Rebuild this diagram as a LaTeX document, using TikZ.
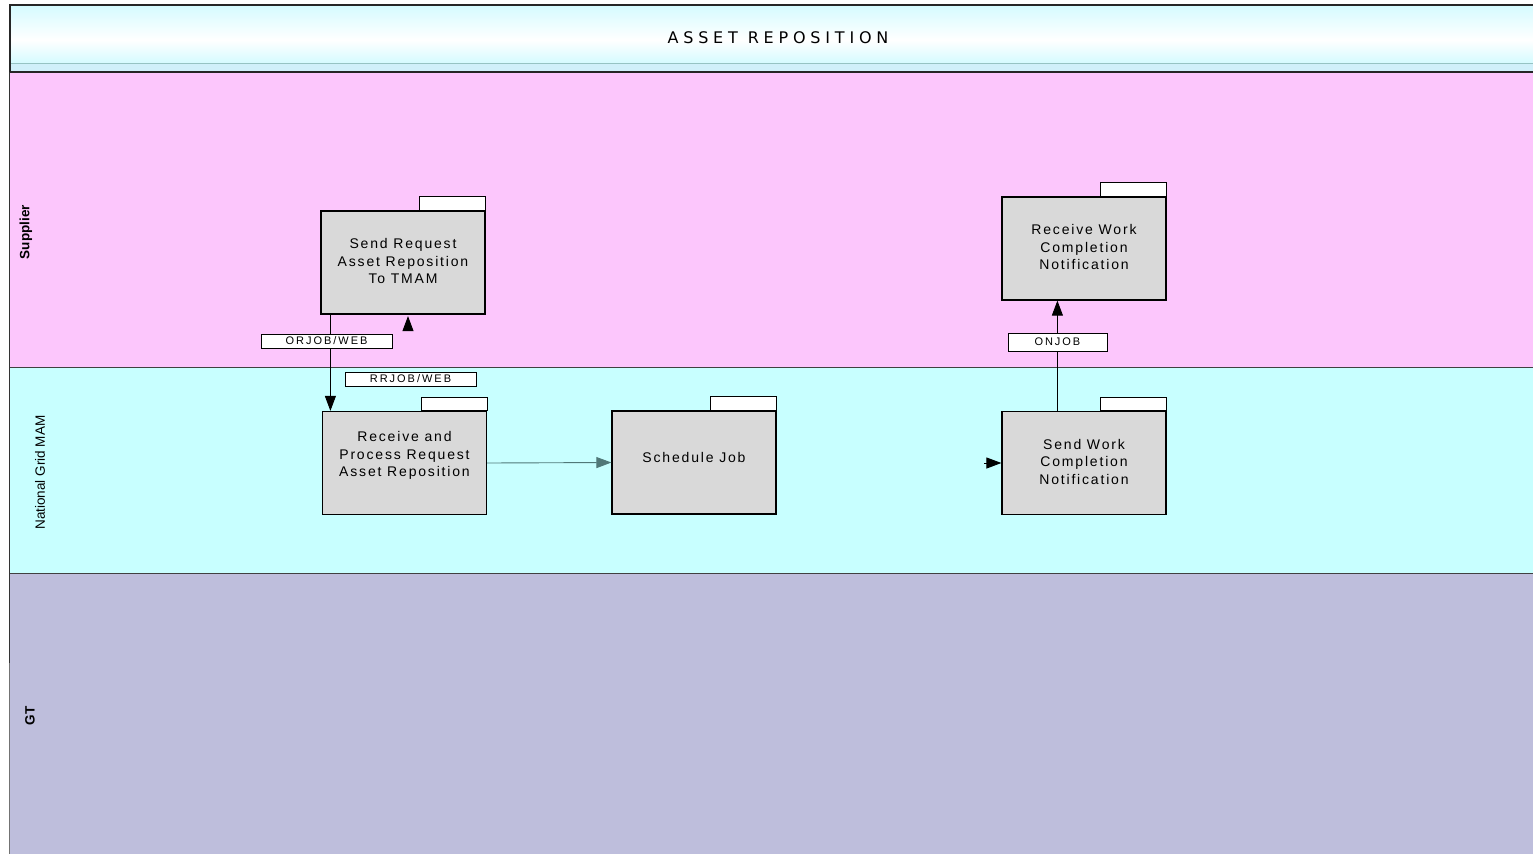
\documentclass[tikz,border=0pt]{standalone}
\usepackage{fontspec}
\setmainfont{Liberation Sans}
\newfontfamily\boxfont[LetterSpace=13]{Liberation Sans}
\newfontfamily\labelfont[LetterSpace=18]{Liberation Sans}
\newfontfamily\titlefont[LetterSpace=30]{DejaVu Sans}
\usetikzlibrary{arrows.meta,calc}
\definecolor{suppink}{RGB}{252,198,252}
\definecolor{ngcyan}{RGB}{200,255,255}
\definecolor{gtlav}{RGB}{190,190,220}
\definecolor{boxgray}{RGB}{217,217,217}
\definecolor{titlecyan}{RGB}{213,251,255}
\definecolor{titlesep}{RGB}{150,195,195}
\definecolor{titlelow}{RGB}{208,240,250}
\definecolor{flowteal}{RGB}{80,120,120}
\tikzset{
  procbox/.style={draw=black, fill=boxgray, line width=1.2pt, minimum width=164pt, minimum height=103pt, inner sep=0pt},
  boxtext/.style={align=center, font=\boxfont\fontsize{14}{17.5}\selectfont, inner sep=0pt},
  tabbox/.style={draw=black, fill=white, line width=0.9pt},
  flowlabel/.style={draw=black, fill=white, line width=0.8pt, font=\labelfont\fontsize{11}{12}\selectfont, inner sep=0pt},
  flow/.style={line width=0.9pt, -{Triangle[length=15pt,width=11pt]}},
  lanetext/.style={rotate=90, font=\fontsize{13.5}{15}\selectfont, inner sep=0pt},
  laneline/.style={draw=black!75, line width=0.9pt}
}
\begin{document}
\begin{tikzpicture}[x=1pt,y=-1pt]
\useasboundingbox (0,0) rectangle (1533,854);
% lanes
\fill[suppink] (10,72) rectangle (1533,367);
\fill[ngcyan] (10,367) rectangle (1533,573);
\fill[gtlav] (10,573) rectangle (1533,854);
\draw[laneline] (10,367) -- (1533,367);
\draw[laneline] (10,573) -- (1533,573);
% title band
\shade[top color=titlecyan, bottom color=white] (10,5) rectangle (1533,40);
\shade[top color=white, bottom color=titlecyan] (10,40) rectangle (1533,63);
\fill[titlelow] (10,63) rectangle (1533,72);
\draw[titlesep, line width=0.9pt] (10,63) -- (1533,63);
\draw[black!85, line width=2pt] (1533,5) -- (9.5,5) -- (9.5,72) -- (1533,72);
\node[font=\titlefont\fontsize{16}{18}\selectfont, inner sep=0pt] (title) at (778,38) {ASSET REPOSITION};
% left border
\draw[black!80, line width=1.5pt] (9.5,72) -- (9.5,663);
\draw[black!55, line width=1.2pt] (9.5,663) -- (9.5,854);
% lane labels
\node[lanetext, font=\bfseries\fontsize{13.5}{15}\selectfont] (lsup) at (26,232) {Supplier};
\node[lanetext, font=\fontsize{13.5}{15}\selectfont] (lng) at (40,472.5) {National Grid MAM};
\node[lanetext, font=\bfseries\fontsize{13.5}{15}\selectfont] (lgt) at (30,716) {GT};
% process boxes
\node[procbox] (b1) at (403,262.5) {};
\node[procbox] (b2) at (404.5,463) {};
\node[procbox] (b3) at (694,462.5) {};
\node[procbox] (b4) at (1084,248.5) {};
\node[procbox] (b5) at (1084,463) {};
\foreach \b in {b1,b2,b3,b4,b5}{
  \draw[tabbox] ($(\b.north east)+(-66,0)$) rectangle ($(\b.north east)+(0,-13.5)$);
}
\node[boxtext] (t1) at ($(b1.center)+(0,-1.5)$) {Send Request\\Asset Reposition\\To TMAM};
\node[boxtext] (t2) at ($(b2.center)+(0,-7.5)$) {Receive and\\Process Request\\Asset Reposition};
\node[boxtext] (t3) at ($(b3.center)+(0,-5)$) {Schedule Job};
\node[boxtext] (t4) at ($(b4.center)+(0,-1.5)$) {Receive Work\\Completion\\Notification};
\node[boxtext] (t5) at ($(b5.center)+(0,-1.5)$) {Send Work\\Completion\\Notification};
% connectors
\coordinate (s1) at ($(b1.south west)+(10,0)$);
\draw[flow, draw=black] (s1) -- (s1 |- b2.north);
\coordinate (r1) at ($(b1.south)+(5,15)$);
\draw[flow] (r1) -- ($(b1.south)+(5,1.5)$);
\draw[flow, draw=flowteal] (b2.east) -- (b3.west);
\coordinate (r5) at ($(b5.west)+(-17,0)$);
\draw[flow] (r5) -- (b5.west);
\coordinate (s5) at ($(b5.north west)+(56,0)$);
\draw[flow] (s5) -- (s5 |- b4.south);
% labels
\node[flowlabel, minimum width=131pt, minimum height=14pt] (l1) at (326.5,341) {ORJOB/WEB};
\node[flowlabel, minimum width=131pt, minimum height=14pt] (l2) at (410.5,379) {RRJOB/WEB};
\node[flowlabel, minimum width=99pt, minimum height=18pt] (l3) at ($(s5 |- 0,342)$) {ONJOB};
\end{tikzpicture}
\end{document}
